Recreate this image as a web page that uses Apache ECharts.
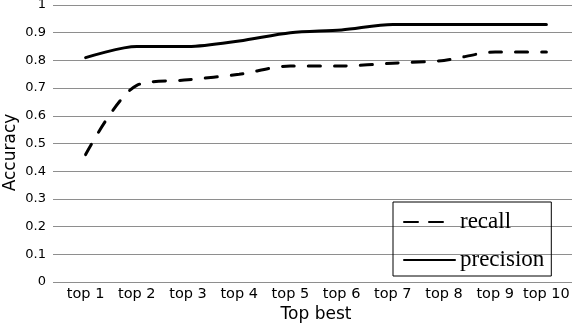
<!DOCTYPE html>
<html>
<head>
<meta charset="utf-8">
<script src="https://cdn.jsdelivr.net/npm/echarts@6/dist/echarts.min.js"></script>
<style>
  html, body { margin: 0; padding: 0; background: #fff; }
  #chart { width: 572px; height: 326px; }
</style>
</head>
<body>
<div id="chart"></div>
<script>
// categories on the x axis
var categories = ['top 1', 'top 2', 'top 3', 'top 4', 'top 5', 'top 6', 'top 7', 'top 8', 'top 9', 'top 10'];
// accuracy values
var recall = [0.46, 0.71, 0.73, 0.75, 0.78, 0.78, 0.79, 0.80, 0.83, 0.83];
var precision = [0.81, 0.85, 0.85, 0.87, 0.90, 0.91, 0.93, 0.93, 0.93, 0.93];

var gridGray = '#8e8e8e';

var chart = echarts.init(document.getElementById('chart'));
chart.setOption({
    animation: false,
    backgroundColor: '#fff',
    grid: { left: 60, right: 0, top: 5, bottom: 44, outerBoundsMode: 'none' },
    legend: {
        orient: 'vertical',
        left: 393,
        top: 202,
        padding: [8, 7, 4, 10],
        borderColor: '#000',
        borderWidth: 1,
        itemWidth: 51,
        itemHeight: 20,
        itemGap: 14,
        itemStyle: { opacity: 0 },
        textStyle: { fontFamily: 'Liberation Serif', fontSize: 23, lineHeight: 24, color: '#000' },
        data: [
            { name: 'recall', lineStyle: { type: [14, 11, 14, 40] } },
            { name: 'precision' }
        ]
    },
    xAxis: {
        type: 'category',
        data: categories,
        name: 'Top best',
        nameLocation: 'middle',
        nameGap: 24,
        nameMoveOverlap: false,
        nameTextStyle: { fontFamily: 'DejaVu Sans', fontSize: 17, color: '#000' },
        axisLine: { lineStyle: { color: gridGray, width: 1 } },
        axisTick: { show: false },
        axisLabel: { interval: 0, margin: 5, fontFamily: 'DejaVu Sans', fontSize: 14.5, color: '#000' }
    },
    yAxis: {
        type: 'value',
        min: 0,
        max: 1,
        interval: 0.1,
        name: 'Accuracy',
        nameLocation: 'middle',
        nameGap: 41,
        nameMoveOverlap: false,
        nameTextStyle: { fontFamily: 'DejaVu Sans', fontSize: 17, color: '#000', padding: [0, 18, 0, 0] },
        axisLine: { show: true, lineStyle: { color: gridGray, opacity: 0 } },
        axisTick: { show: true, length: 7, lineStyle: { color: gridGray, opacity: 1 } },
        splitLine: { lineStyle: { color: gridGray, width: 1 } },
        axisLabel: {
            margin: 14,
            fontFamily: 'DejaVu Sans',
            fontSize: 13,
            color: '#000',
            formatter: function (v) { return String(Math.round(v * 10) / 10); }
        }
    },
    series: [
        {
            name: 'recall',
            type: 'line',
            data: recall,
            smooth: 0.3,
            showSymbol: false,
            symbol: 'none',
            color: '#000',
            lineStyle: { color: '#000', width: 3, type: [12, 14], cap: 'round' }
        },
        {
            name: 'precision',
            type: 'line',
            data: precision,
            smooth: 0.3,
            showSymbol: false,
            symbol: 'none',
            color: '#000',
            lineStyle: { color: '#000', width: 3, type: 'solid', cap: 'round' }
        }
    ]
});
</script>
</body>
</html>
